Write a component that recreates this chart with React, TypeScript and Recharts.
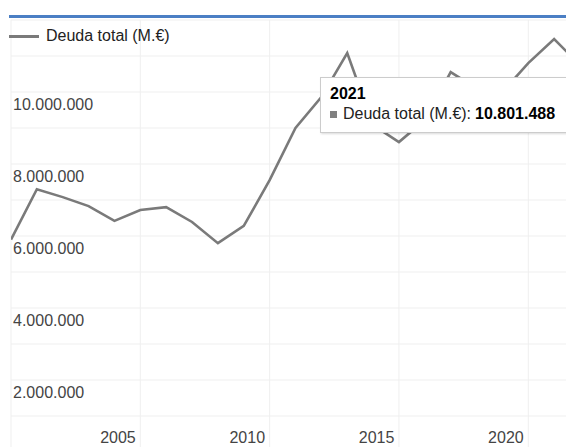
import React from 'react';
import { LineChart, Line, XAxis, YAxis, CartesianGrid, Tooltip, Legend } from 'recharts';

const years = [2001, 2002, 2003, 2004, 2005, 2006, 2007, 2008, 2009, 2010, 2011, 2012, 2013, 2014, 2015, 2016, 2017, 2018, 2019, 2020, 2021, 2022, 2023];
const deudaTotal = [5900000, 7300000, 7080000, 6830000, 6420000, 6720000, 6800000, 6390000, 5800000, 6280000, 7550000, 9000000, 9860000, 11080000, 9080000, 8610000, 9220000, 10550000, 10100000, 10000000, 10801488, 11470000, 10750000];
const xTickYears = [2005, 2010, 2015, 2020];
const xGridYears = [2001, 2006, 2011, 2016, 2021];
const yTicks = [1000000, 2000000, 3000000, 4000000, 5000000, 6000000, 7000000, 8000000, 9000000, 10000000, 11000000];
const seriesName = 'Deuda total (M.€)';

const data = years.map((y, i) => ({ year: y, deuda: deudaTotal[i] }));

const FONT = "'Liberation Sans', Arial, sans-serif";
const fmt = (v: number) => String(Math.round(v)).replace(/\B(?=(\d{3})+(?!\d))/g, '.');

const YTick = (props: any) => {
  const { x, y, payload } = props;
  if (payload.value % 2000000 !== 0) return <g />;
  return (
    <text x={x + 2} y={y + 18} textAnchor="start" fill="#444" fontSize={16} fontFamily={FONT}>
      {fmt(payload.value)}
    </text>
  );
};

const XTick = (props: any) => {
  const { x, y, payload } = props;
  return (
    <text x={x + 3.5} y={y - 9} textAnchor="middle" fill="#444" fontSize={16} fontFamily={FONT}>
      {payload.value}
    </text>
  );
};

const LegendContent = () => (
  <div style={{ display: 'flex', alignItems: 'center', fontFamily: FONT, fontSize: 16, color: '#222', whiteSpace: 'nowrap' }}>
    <span style={{ display: 'inline-block', width: 30, height: 3, background: '#7a7a7a', marginRight: 7 }} />
    <span>{seriesName}</span>
  </div>
);

const TooltipContent = (props: any) => {
  const { active, payload, label } = props;
  if (!active || !payload || !payload.length) return null;
  return (
    <div
      style={{
        background: '#fff',
        border: '1px solid #cccccc',
        boxShadow: '1px 1px 2px rgba(0,0,0,0.15)',
        padding: '7px 12px 9px 9px',
        fontFamily: FONT,
        fontSize: 16,
        color: '#222',
        whiteSpace: 'nowrap',
      }}
    >
      <div style={{ fontWeight: 'bold', color: '#000' }}>{label}</div>
      <div style={{ marginTop: 2, display: 'flex', alignItems: 'center' }}>
        <span style={{ display: 'inline-block', width: 7, height: 7, background: '#808080', marginRight: 6 }} />
        <span>{seriesName}: </span>
        <span style={{ fontWeight: 'bold', color: '#000', marginLeft: 4 }}>{fmt(payload[0].value)}</span>
      </div>
    </div>
  );
};

export default function App() {
  return (
    <div style={{ position: 'absolute', left: 0, top: 0, width: 566, height: 447, overflow: 'hidden', background: '#fff' }}>
      <div style={{ position: 'absolute', left: 9, top: 15, width: 557, height: 3, background: '#4b7fc4', zIndex: 2 }} />
      <LineChart width={580} height={482} data={data} margin={{ top: 20, right: 0, bottom: 0, left: 11 }}>
        <CartesianGrid xAxisId="grid" stroke="#efefef" strokeWidth={1} />
        <XAxis
          dataKey="year"
          type="number"
          domain={[2001, 2023]}
          ticks={xTickYears}
          interval={0}
          allowDataOverflow
          axisLine={false}
          tickLine={false}
          tickSize={0}
          tickMargin={0}
          height={30}
          tick={<XTick />}
        />
        <XAxis
          xAxisId="grid"
          dataKey="year"
          type="number"
          domain={[2001, 2023]}
          ticks={xGridYears}
          interval={0}
          allowDataOverflow
          hide
        />
        <YAxis
          type="number"
          domain={[0, 12000000]}
          ticks={yTicks}
          interval={0}
          width={90}
          mirror
          axisLine={false}
          tickLine={false}
          tickSize={0}
          tickMargin={0}
          tick={<YTick />}
        />
        <Legend
          layout="horizontal"
          verticalAlign="middle"
          align="center"
          content={<LegendContent />}
          wrapperStyle={{ position: 'absolute', top: 27, left: 9, width: 'auto' }}
        />
        <Tooltip
          active
          defaultIndex={20}
          cursor={false}
          position={{ x: 320, y: 77 }}
          content={<TooltipContent />}
          isAnimationActive={false}
        />
        <Line
          dataKey="deuda"
          name={seriesName}
          type="linear"
          stroke="#7a7a7a"
          strokeWidth={2.6}
          dot={false}
          activeDot={false}
          isAnimationActive={false}
        />
      </LineChart>
    </div>
  );
}
